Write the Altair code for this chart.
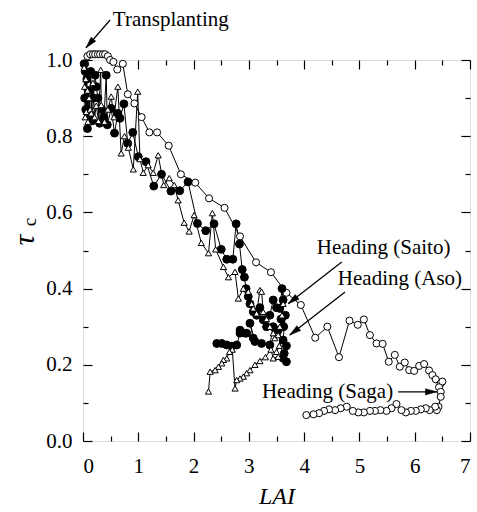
import math
import altair as alt
import pandas as pd

# ---------------- data ----------------
saga_x = [0.04, 0.08, 0.13, 0.18, 0.22, 0.27, 0.31, 0.36, 0.40, 0.45, 0.49, 0.55, 0.62, 0.72,
          0.81, 0.93, 1.06, 1.20, 1.34, 1.55, 1.77, 2.03, 2.28, 2.56, 2.84, 3.13, 3.40, 3.68,
          3.94, 4.20, 4.42, 4.63, 4.82, 4.97, 5.08, 5.19, 5.31, 5.42, 5.53, 5.64, 5.73, 5.82,
          5.90, 5.99, 6.08, 6.17, 6.26, 6.32, 6.38, 6.47, 6.50, 6.44, 6.47, 6.47, 6.43, 6.40,
          6.37, 6.27, 6.20, 6.11, 6.02, 5.93, 5.84, 5.76, 5.67, 5.58, 5.49, 5.38, 5.28, 5.19,
          5.08, 4.98, 4.88, 4.77, 4.66, 4.56, 4.45, 4.36, 4.27, 4.17, 4.04]
saga_y = [0.99, 1.01, 1.015, 1.015, 1.015, 1.015, 1.015, 1.015, 1.015, 1.01, 1.0, 0.995, 0.975, 0.99,
          0.91, 0.886, 0.85, 0.81, 0.81, 0.775, 0.70, 0.678, 0.637, 0.612, 0.537, 0.469, 0.443, 0.389,
          0.357, 0.271, 0.30, 0.22, 0.316, 0.305, 0.319, 0.278, 0.256, 0.255, 0.208, 0.226, 0.195, 0.206,
          0.186, 0.184, 0.197, 0.202, 0.185, 0.173, 0.162, 0.151, 0.156, 0.141, 0.129, 0.116, 0.09, 0.081,
          0.09, 0.081, 0.086, 0.083, 0.079, 0.079, 0.075, 0.081, 0.097, 0.086, 0.079, 0.081, 0.079, 0.079,
          0.075, 0.075, 0.079, 0.09, 0.086, 0.081, 0.083, 0.079, 0.073, 0.07, 0.068]

aso_x = [0.02, 0.03, 0.04, 0.05, 0.07, 0.08, 0.10, 0.12, 0.14, 0.16, 0.19, 0.22, 0.24, 0.27,
         0.30, 0.34, 0.38, 0.42, 0.44, 0.51, 0.57, 0.63, 0.67, 0.74, 0.81, 0.90, 1.00, 1.14,
         1.28, 1.42, 1.59, 1.75, 1.90, 2.07, 2.22, 2.37, 2.50, 2.60, 2.71, 2.77, 2.83, 2.88,
         2.92, 2.95, 2.99, 3.02, 3.08, 3.14, 3.20, 3.26, 3.32, 3.38, 3.44, 3.50, 3.56, 3.60,
         3.62, 3.58, 3.63, 3.66, 3.62, 3.68, 3.64, 3.68, 3.62, 3.53, 3.44, 3.38, 3.23, 3.11,
         3.02, 3.08, 2.96, 2.84, 2.93, 2.84, 2.78, 2.69, 2.60, 2.51, 2.42]
aso_y = [0.99, 0.90, 0.97, 0.87, 0.95, 0.82, 0.92, 0.86, 0.97, 0.84, 0.90, 0.96, 0.93, 0.90,
         0.834, 0.87, 0.85, 0.96, 0.83, 0.873, 0.808, 0.86, 0.847, 0.885, 0.781, 0.81, 0.746, 0.733,
         0.669, 0.70, 0.656, 0.657, 0.68, 0.571, 0.552, 0.57, 0.503, 0.477, 0.477, 0.57, 0.517, 0.45,
         0.43, 0.40, 0.379, 0.36, 0.339, 0.33, 0.35, 0.318, 0.30, 0.33, 0.37, 0.35, 0.348, 0.40,
         0.37, 0.32, 0.30, 0.33, 0.265, 0.25, 0.23, 0.208, 0.217, 0.291, 0.30, 0.252, 0.256, 0.261,
         0.309, 0.27, 0.283, 0.291, 0.283, 0.283, 0.252, 0.249, 0.252, 0.256, 0.256]

saito_x = [0.02, 0.03, 0.04, 0.05, 0.06, 0.08, 0.09, 0.11, 0.13, 0.15, 0.18, 0.21, 0.24, 0.28,
           0.32, 0.33, 0.39, 0.45, 0.51, 0.56, 0.63, 0.69, 0.75, 0.82, 0.91, 0.99, 1.03, 1.09,
           1.18, 1.27, 1.36, 1.46, 1.56, 1.65, 1.72, 1.83, 1.92, 2.01, 2.14, 2.27, 2.34, 2.40,
           2.54, 2.63, 2.75, 2.81, 2.90, 2.99, 3.05, 3.08, 3.14, 3.20, 3.23, 3.26, 3.32, 3.38,
           3.44, 3.47, 3.53, 3.56, 3.60, 3.62, 3.55, 3.50, 3.53, 3.44, 3.40, 3.30, 3.20, 3.11,
           3.02, 2.96, 2.90, 2.84, 2.78, 2.75, 2.70, 2.65, 2.60, 2.54, 2.51, 2.45, 2.39, 2.30, 2.27]
saito_y = [0.98, 0.93, 0.85, 0.95, 0.864, 0.92, 0.838, 0.90, 0.87, 0.86, 0.94, 0.85, 0.88, 0.84,
           0.974, 0.882, 0.838, 0.87, 0.904, 0.85, 0.93, 0.755, 0.80, 0.77, 0.713, 0.917, 0.74, 0.704,
           0.724, 0.704, 0.75, 0.672, 0.69, 0.672, 0.632, 0.573, 0.55, 0.593, 0.52, 0.493, 0.598, 0.503,
           0.457, 0.43, 0.444, 0.374, 0.40, 0.392, 0.36, 0.348, 0.335, 0.396, 0.392, 0.339, 0.32, 0.30,
           0.283, 0.27, 0.278, 0.30, 0.33, 0.36, 0.25, 0.234, 0.221, 0.217, 0.24, 0.22, 0.21, 0.20,
           0.186, 0.178, 0.169, 0.164, 0.16, 0.138, 0.24, 0.234, 0.217, 0.213, 0.204, 0.195, 0.186, 0.182, 0.13]

x_major = [0, 1, 2, 3, 4, 5, 6, 7]
x_minor = [0.5, 1.5, 2.5, 3.5, 4.5, 5.5, 6.5]
y_major = [0.0, 0.2, 0.4, 0.6, 0.8, 1.0]
y_minor = [0.1, 0.3, 0.5, 0.7, 0.9]

ann_text = ["Transplanting", "Heading (Saito)", "Heading (Aso)", "Heading (Saga)"]
ann_x = [0.54, 4.23, 4.61, 5.61]
ann_y = [1.105, 0.507, 0.425, 0.129]
ann_align = ["left", "left", "left", "right"]
arr_x1 = [0.49, 4.68, 4.74, 5.70]
arr_y1 = [1.105, 0.47, 0.391, 0.129]
arr_x2 = [0.054, 3.71, 3.74, 6.40]
arr_y2 = [1.032, 0.36, 0.278, 0.129]

# ---------------- layout ----------------
W, H = 387, 381
FONT = "Liberation Serif"
XMAX, YMAX = 7.0, 1.0

xs = alt.Scale(domain=[0, XMAX], nice=False, zero=False)
ys = alt.Scale(domain=[0, YMAX], nice=False, zero=False)


def frame(xv, yv):
    return pd.DataFrame({"x": xv, "y": yv, "i": list(range(len(xv)))})


saga = frame(saga_x, saga_y)
aso = frame(aso_x, aso_y)
saito = frame(saito_x, saito_y)

X = alt.X("x:Q", scale=xs, axis=None)
Y = alt.Y("y:Q", scale=ys, axis=None)


def series_line(df):
    return alt.Chart(df).mark_line(color="black", strokeWidth=1).encode(x=X, y=Y, order="i:Q")


lines = [series_line(saga), series_line(aso), series_line(saito)]

pts_saga = alt.Chart(saga).mark_point(shape="circle", filled=True, fill="white", stroke="black",
                                      strokeWidth=1, size=50, opacity=1).encode(x=X, y=Y)
pts_aso = alt.Chart(aso).mark_point(shape="circle", filled=True, fill="black", stroke="black",
                                    strokeWidth=1, size=62, opacity=1).encode(x=X, y=Y)
pts_saito = alt.Chart(saito).mark_point(shape="triangle-up", filled=True, fill="white", stroke="black",
                                        strokeWidth=1, size=38, opacity=1).encode(x=X, y=Y)

# ---------------- axes (inward ticks) ----------------
common = dict(domain=False, grid=False, tickColor="black", tickWidth=1.2,
              labelFont=FONT, labelColor="black", labelFontSize=21)


def axis_layer(ax_x, ax_y):
    return alt.Chart(saga).mark_point(opacity=0).encode(
        x=alt.X("x:Q", scale=xs, axis=ax_x), y=alt.Y("y:Q", scale=ys, axis=ax_y))


ax1 = axis_layer(
    alt.Axis(orient="bottom", values=x_major, format="d", tickSize=9, offset=-9, labelPadding=14,
             title="LAI", titleFont=FONT, titleFontSize=24, titleFontStyle="italic",
             titleFontWeight="normal", titleColor="black", titlePadding=8, **common),
    alt.Axis(orient="left", values=y_major, format=".1f", tickSize=9, offset=-9, labelPadding=11,
             title=None, **common))
ax2 = axis_layer(
    alt.Axis(orient="bottom", values=x_minor, tickSize=5, offset=-5, labels=False, title=None, **common),
    alt.Axis(orient="left", values=y_minor, tickSize=5, offset=-5, labels=False, title=None, **common))
ax3 = axis_layer(
    alt.Axis(orient="top", values=x_major, tickSize=9, offset=-9, labels=False, title=None, **common),
    alt.Axis(orient="right", values=y_major, tickSize=9, offset=-9, labels=False, title=None, **common))
ax4 = axis_layer(
    alt.Axis(orient="top", values=x_minor, tickSize=5, offset=-5, labels=False, title=None, **common),
    alt.Axis(orient="right", values=y_minor, tickSize=5, offset=-5, labels=False, title=None, **common))

# ---------------- y title  tau_c ----------------
tau = alt.Chart(pd.DataFrame({"t": ["τ"]})).mark_text(
    font=FONT, fontSize=30, fontStyle="italic", angle=270, color="black",
    align="center", baseline="middle").encode(text="t:N", x=alt.value(-58), y=alt.value(180))
tau_c = alt.Chart(pd.DataFrame({"t": ["c"]})).mark_text(
    font=FONT, fontSize=19, angle=270, color="black",
    align="center", baseline="middle").encode(text="t:N", x=alt.value(-53), y=alt.value(162))

# ---------------- annotations ----------------
ann = pd.DataFrame({"t": ann_text, "x": ann_x, "y": ann_y, "a": ann_align})
txt_left = alt.Chart(ann[ann.a == "left"]).mark_text(
    font=FONT, fontSize=21, align="left", baseline="middle", color="black").encode(x=X, y=Y, text="t:N")
txt_right = alt.Chart(ann[ann.a == "right"]).mark_text(
    font=FONT, fontSize=21, align="right", baseline="middle", color="black").encode(x=X, y=Y, text="t:N")

angles = []
for x1, y1, x2, y2 in zip(arr_x1, arr_y1, arr_x2, arr_y2):
    dx = (x2 - x1) * W / XMAX
    dy = -(y2 - y1) * H / YMAX
    angles.append(math.degrees(math.atan2(dx, -dy)) % 360)

arr = pd.DataFrame({"x": arr_x1, "y": arr_y1, "x2": arr_x2, "y2": arr_y2, "ang": angles})
arrow_lines = alt.Chart(arr).mark_rule(color="black", strokeWidth=1.3).encode(
    x=X, y=Y, x2="x2:Q", y2="y2:Q")
arrow_heads = alt.Chart(arr).mark_point(
    shape="M0,0L-0.27,1L0.27,1Z", filled=True, fill="black", stroke="black", strokeWidth=0.5,
    size=520, opacity=1).encode(
    x=alt.X("x2:Q", scale=xs, axis=None), y=alt.Y("y2:Q", scale=ys, axis=None),
    angle=alt.Angle("ang:Q", scale=None))

chart = alt.layer(
    ax1, ax2, ax3, ax4, *lines, pts_saga, pts_aso, pts_saito,
    arrow_lines, arrow_heads, txt_left, txt_right, tau, tau_c
).resolve_axis(x="independent", y="independent").properties(
    width=W, height=H,
    autosize=alt.AutoSizeParams(type="none"),
    padding={"left": 83, "top": 60, "right": 7, "bottom": 71},
).configure_view(stroke="black", strokeWidth=1.5).configure(
    background="white"
).configure_axis(labelFont=FONT, titleFont=FONT).configure_text(font=FONT)

chart.save("out.html", embed_options={"renderer": "svg", "actions": False})
